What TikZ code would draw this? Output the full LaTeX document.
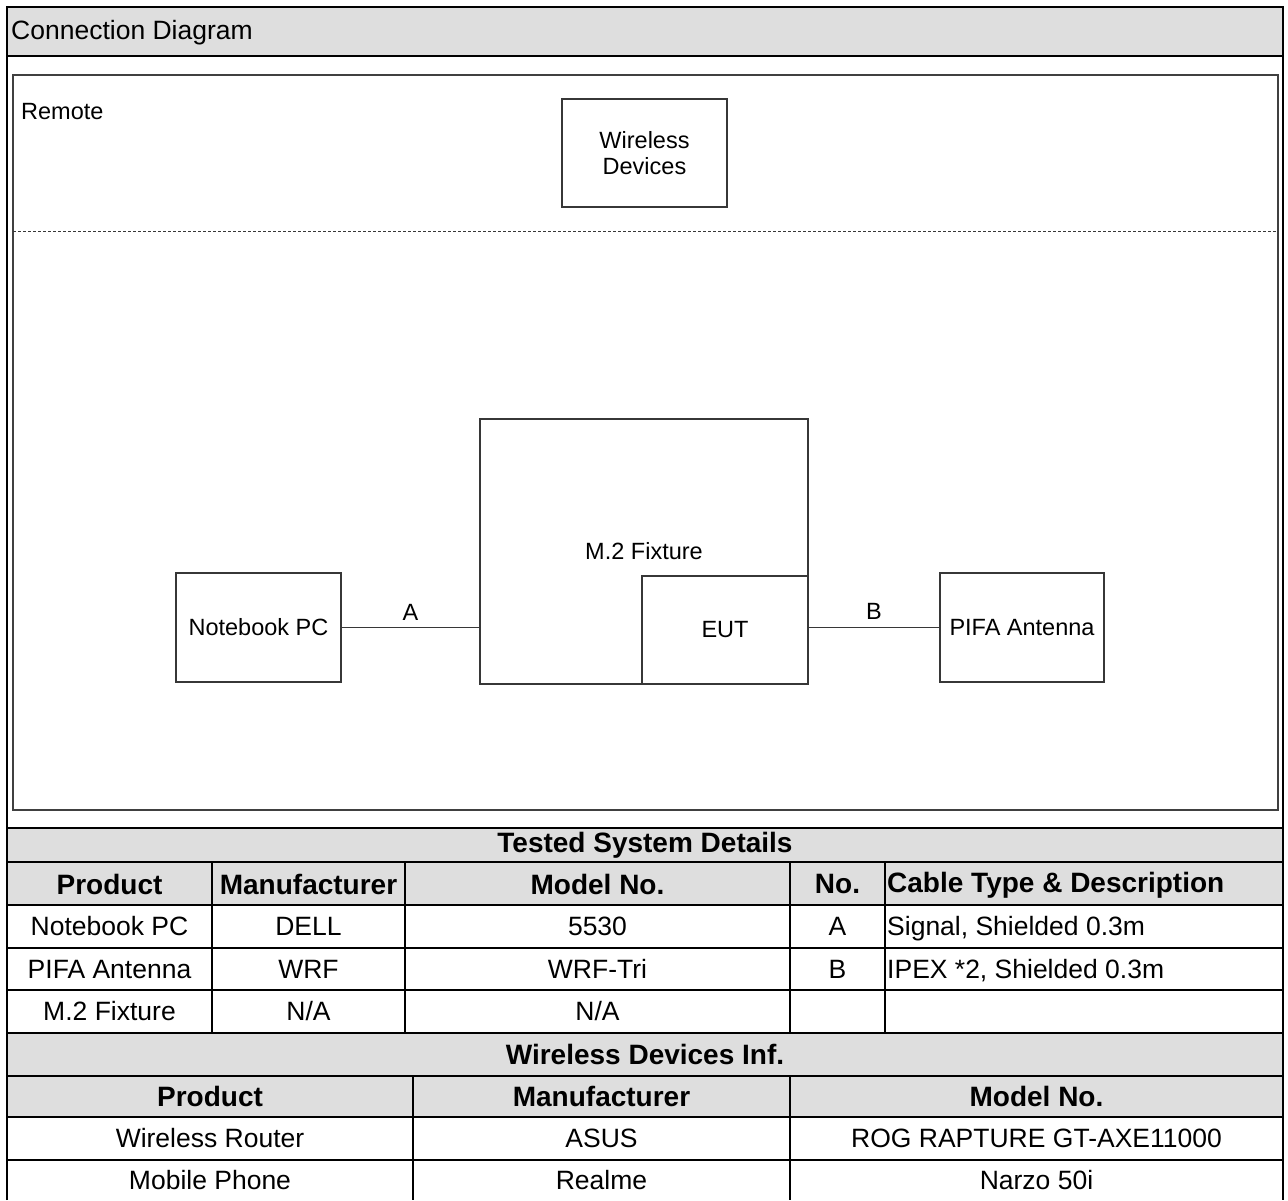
\documentclass[tikz,border=0pt]{standalone}
\usepackage{fontspec}
\setmainfont{Liberation Sans}
\usetikzlibrary{positioning}
\definecolor{bandgray}{RGB}{222,222,222}
\definecolor{boxline}{RGB}{55,55,55}
\tikzset{
  devbox/.style={draw=boxline, fill=white, line width=1.3pt, font=\fontsize{23.5}{25}\selectfont, align=center, inner sep=0pt},
  plain/.style={font=\fontsize{23.5}{25}\selectfont, inner sep=2pt},
  cell/.style={font=\fontsize{26.5}{30}\selectfont, inner sep=0pt},
  headcell/.style={font=\fontsize{28}{30}\selectfont\bfseries, inner sep=0pt},
  grid/.style={line width=2.8pt},
  link/.style={draw=boxline, line width=1.3pt}
}
\begin{document}
\begin{tikzpicture}[x=1pt, y=-1pt]
  \useasboundingbox (0,0) rectangle (1288,1200);
  \fill[bandgray] (7,7) rectangle (1283,56);
  \fill[bandgray] (7,828) rectangle (1283,905);
  \fill[bandgray] (7,1033) rectangle (1283,1117);
  \draw[line width=1.4pt, draw=black!75] (13,75) rectangle (1278,810);
  \draw[grid] (7,1200) -- (7,7) -- (1283,7) -- (1283,1200);
  \foreach \y in {56,828,862,905,948,990,1033,1076,1117,1160}
    \draw[grid] (7,\y) -- (1283,\y);
  \foreach \x in {212,405,790,885}
    \draw[grid] (\x,862) -- (\x,1033);
  \foreach \x in {413,790}
    \draw[grid] (\x,1076) -- (\x,1200);

  \node[cell, anchor=west] (title) at (11,33) {Connection Diagram};

  \node[plain, anchor=west] (remote) at (19,112) {Remote};
  \node[devbox, minimum width=165, minimum height=108,
        font=\fontsize{23.5}{26}\selectfont] (wd) at (644.5,153) {Wireless\\Devices};
  \draw[boxline, line width=0.9pt, dash pattern=on 3pt off 2pt] (13,231) -- (1278,231);

  \node[devbox, minimum width=165, minimum height=109] (nb) at (258.5,627.5) {Notebook PC};
  \node[devbox, minimum width=328, minimum height=265] (fix) at (644,551.5) {\raisebox{-5pt}{M.2 Fixture}};
  \node[devbox, minimum width=166, minimum height=108, line width=1.6pt] (eut) at (725,630) {EUT};
  \node[devbox, minimum width=164, minimum height=109] (pifa) at (1022,627.5) {PIFA Antenna};
  \draw[link] (nb.east) -- node[plain, above=4pt] (ca) {A} (nb.east -| fix.west);
  \draw[link] (eut.east |- pifa.west) -- node[plain, above=5pt] (cb) {B} (pifa.west);

  \node[headcell] (tsd) at (645,845) {Tested System Details};
  \node[headcell] (h1) at (109.5,884) {Product};
  \node[headcell] (h2) at (308.5,884) {Manufacturer};
  \node[headcell] (h3) at (597.5,884) {Model No.};
  \node[headcell] (h4) at (837.5,884) {No.};
  \node[headcell, anchor=west] (h5) at (887,885) {Cable Type \& Description};
  \foreach \y/\p/\m/\n/\c/\d [count=\i] in {926.5/Notebook PC/DELL/5530/A/{Signal, Shielded 0.3m},
      969/PIFA Antenna/WRF/WRF-Tri/B/{IPEX *2, Shielded 0.3m},
      1011.5/M.2 Fixture/N\slash A/N\slash A//{}}
  {
    \node[cell] (p\i) at (109.5,\y) {\p};
    \node[cell] (m\i) at (308.5,\y) {\m};
    \node[cell] (n\i) at (597.5,\y) {\n};
    \node[cell] (c\i) at (837.5,\y) {\c};
    \node[cell, anchor=west] (d\i) at (887,\y+2) {\d};
  }

  \node[headcell] (wdi) at (645,1054.5) {Wireless Devices Inf.};
  \node[headcell] (wh1) at (210,1096.5) {Product};
  \node[headcell] (wh2) at (601.5,1096.5) {Manufacturer};
  \node[headcell] (wh3) at (1036.5,1096.5) {Model No.};
  \foreach \y/\p/\m/\n [count=\i] in {1138.5/Wireless Router/ASUS/ROG RAPTURE GT-AXE11000,
      1180/Mobile Phone/Realme/Narzo 50i}
  {
    \node[cell] (wp\i) at (210,\y) {\p};
    \node[cell] (wm\i) at (601.5,\y) {\m};
    \node[cell] (wn\i) at (1036.5,\y) {\n};
  }
\end{tikzpicture}
\end{document}
